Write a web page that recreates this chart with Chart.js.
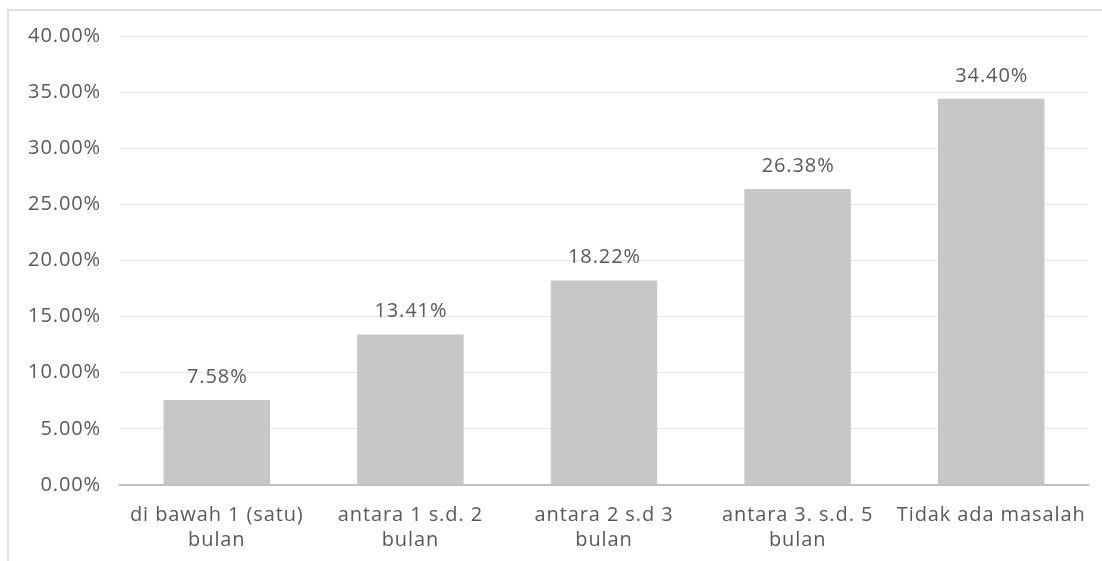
<!DOCTYPE html>
<html>
<head>
<meta charset="utf-8">
<script src="https://cdn.jsdelivr.net/npm/chart.js@4/dist/chart.umd.min.js"></script>
<style>
    html, body { margin: 0; padding: 0; background: #fff; }
    #frame { position: absolute; left: 7px; top: 9px; right: 0; bottom: 0; border-top: 2px solid #e0e0e0; border-left: 2px solid #e0e0e0; }
    #wrap { position: absolute; left: 0; top: 0; width: 1102px; height: 561px; }
</style>
</head>
<body>
<div id="frame"></div>
<div id="wrap"><canvas id="barChart"></canvas></div>
<script>
    // chart data
    const categories = [
        ['di bawah 1 (satu)', 'bulan'],
        ['antara 1 s.d. 2', 'bulan'],
        ['antara 2 s.d 3', 'bulan'],
        ['antara 3. s.d. 5', 'bulan'],
        'Tidak ada masalah'
    ];
    const shares = [7.58, 13.41, 18.22, 26.38, 34.40];
    const yTicks = [0, 5, 10, 15, 20, 25, 30, 35, 40];

    const FONT = "'Open Sans', sans-serif";
    const TEXT = '#595959';

    // slightly wider letter spacing, closer to the original typeface
    const spacing = {
        id: 'spacing',
        beforeDraw(chart) { chart.ctx.letterSpacing = '0.9px'; }
    };

    // draws the value above each bar
    const valueLabels = {
        id: 'valueLabels',
        afterDatasetsDraw(chart) {
            const ctx = chart.ctx;
            const meta = chart.getDatasetMeta(0);
            ctx.save();
            ctx.font = `20px ${FONT}`;
            ctx.fillStyle = TEXT;
            ctx.textAlign = 'center';
            ctx.textBaseline = 'middle';
            meta.data.forEach((bar, i) => {
                ctx.fillText(shares[i].toFixed(2) + '%', bar.x + 0.5, bar.y - 23);
            });
            ctx.restore();
        }
    };

    new Chart(document.getElementById('barChart'), {
        type: 'bar',
        data: {
            labels: categories,
            datasets: [{
                data: shares,
                backgroundColor: '#c7c7c7',
                categoryPercentage: 1,
                barPercentage: 0.55
            }]
        },
        options: {
            responsive: true,
            maintainAspectRatio: false,
            animation: false,
            layout: { padding: { top: 36, right: 14, left: 0, bottom: 0 } },
            plugins: { legend: { display: false }, tooltip: { enabled: false } },
            scales: {
                x: {
                    grid: { display: false },
                    border: { color: '#bfbfbf', width: 2 },
                    ticks: { color: TEXT, font: { family: FONT, size: 20, lineHeight: 1.25 }, padding: 10, maxRotation: 0 },
                    afterFit(scale) { scale.height = 76; }
                },
                y: {
                    min: 0,
                    max: 40,
                    afterBuildTicks(scale) { scale.ticks = yTicks.map(v => ({ value: v })); },
                    grid: { color: '#e8e8e8', lineWidth: 1, drawTicks: false },
                    border: { display: false },
                    ticks: {
                        color: TEXT,
                        font: { family: FONT, size: 20 },
                        padding: 19,
                        callback: v => v.toFixed(2) + '%'
                    },
                    afterFit(scale) { scale.width = 120; }
                }
            }
        },
        plugins: [spacing, valueLabels]
    });
</script>
</body>
</html>
